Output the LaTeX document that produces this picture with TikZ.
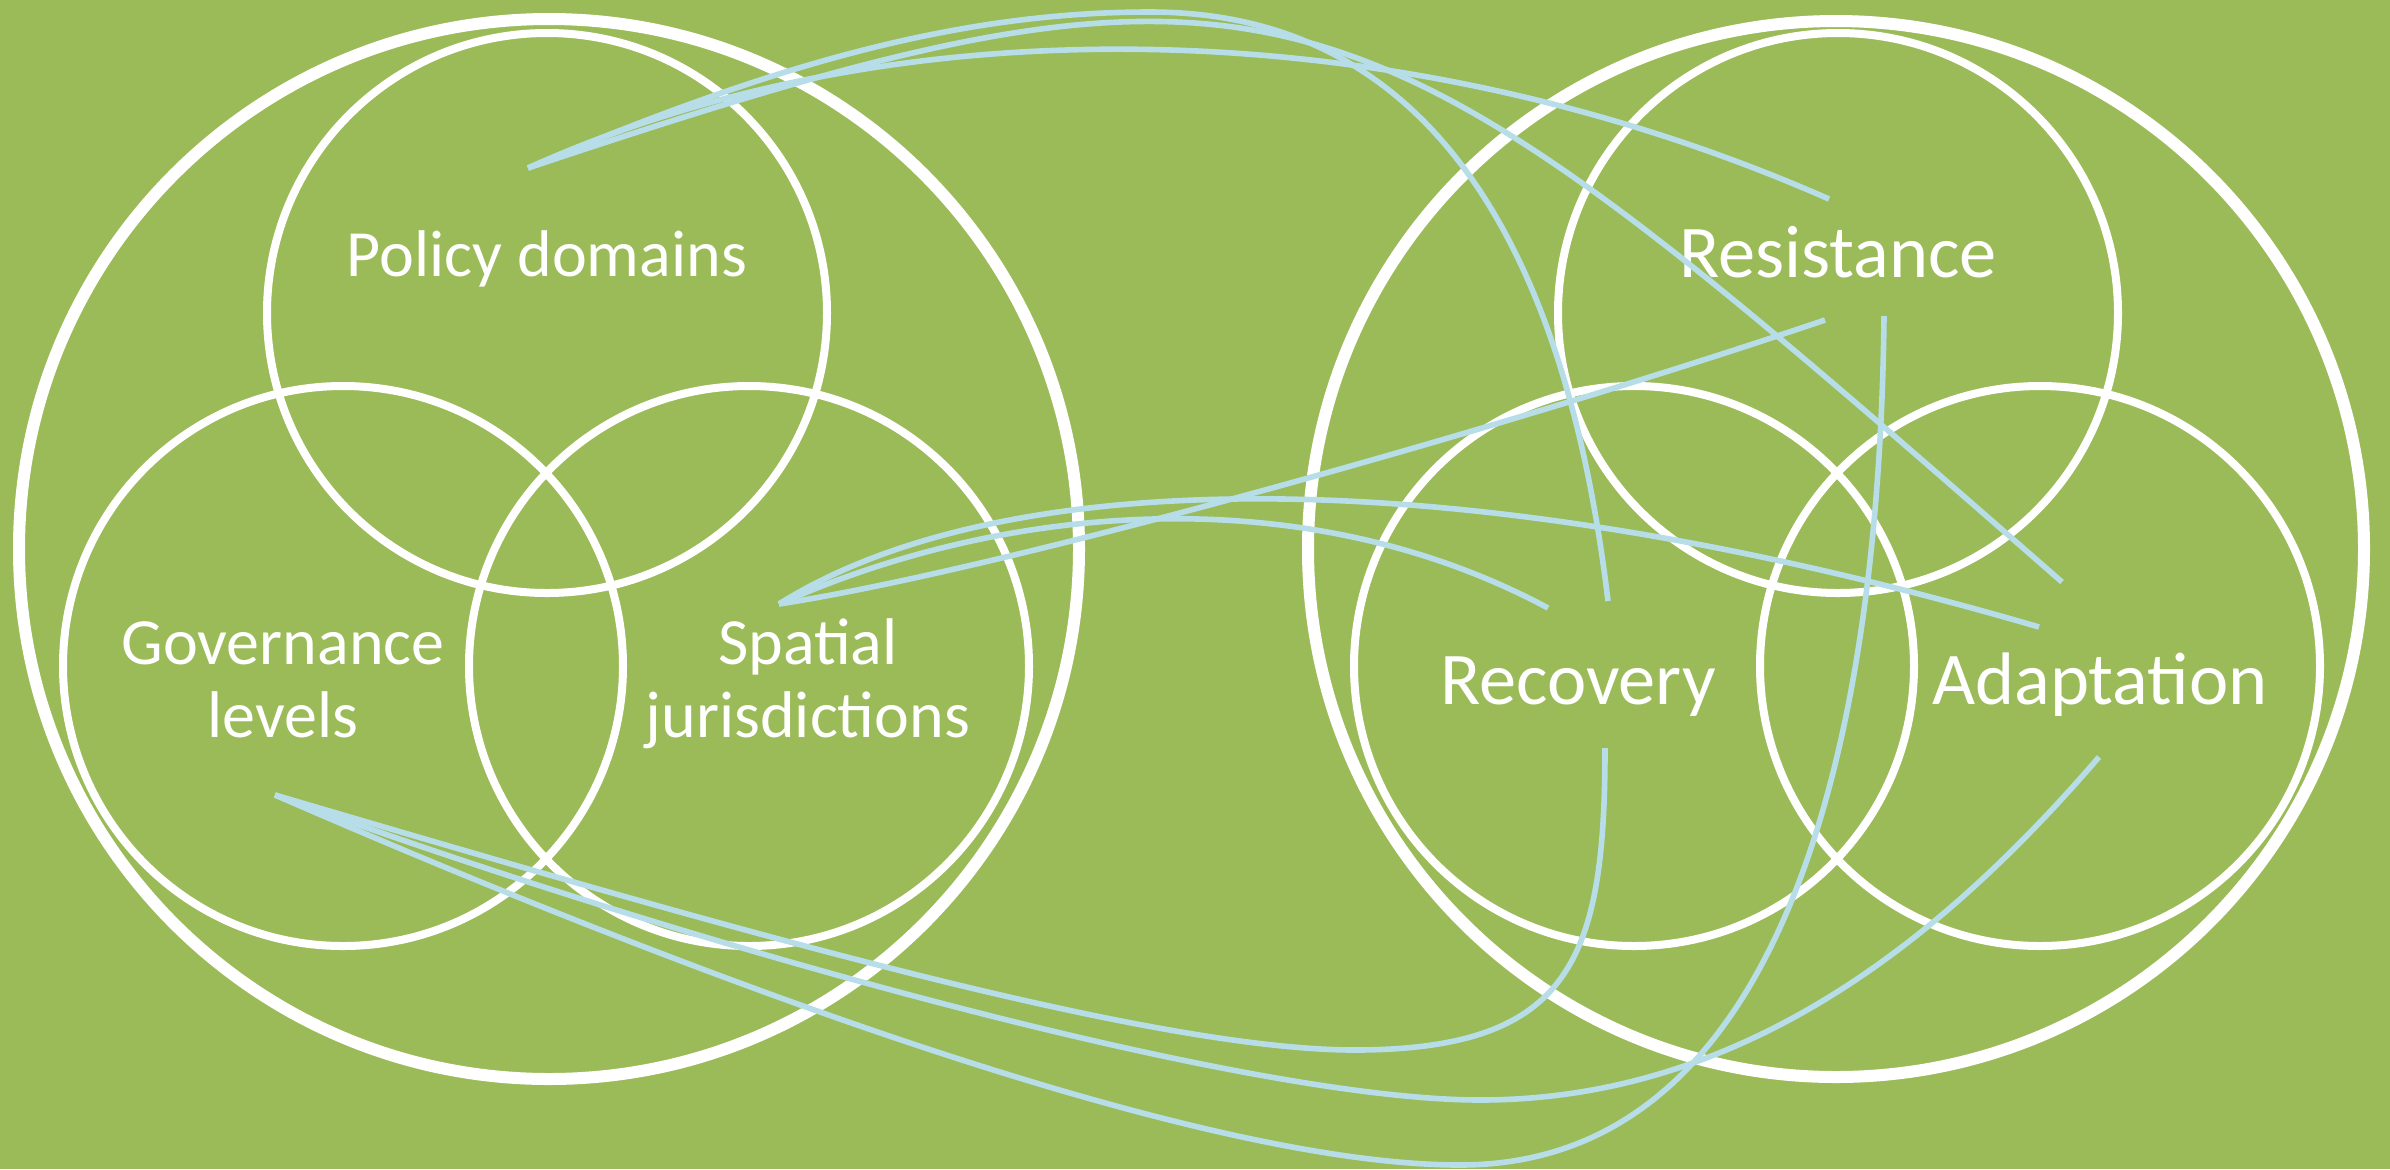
\documentclass[tikz,border=0pt]{standalone}
\usepackage{fontspec}
\setmainfont{Carlito}
\definecolor{bggreen}{HTML}{9BBB59}
\definecolor{linkblue}{HTML}{B7DEE8}
\begin{document}
\begin{tikzpicture}[x=0.25pt,y=-0.25pt,
  outerring/.style={circle,draw=white,line width=3pt,inner sep=0pt,outer sep=0pt},
  ring/.style={circle,draw=white,line width=2pt,inner sep=0pt,outer sep=0pt,minimum size=140pt},
  lbl/.style={text=white,font=\fontsize{16.5}{18.3}\selectfont,align=center,inner sep=0pt},
  biglbl/.style={lbl,font=\fontsize{18.6}{20.5}\selectfont},
  link/.style={draw=linkblue,line width=1.4pt}]
\useasboundingbox (0,0) rectangle (2390,1169);
\fill[bggreen] (0,0) rectangle (2390,1169);
% outer groups
\node[outerring,minimum size=265pt] (govgroup) at (549,549) {};
\node[outerring,minimum size=264pt] (resgroup) at (1836,549) {};
% left venn
\node[ring] (pdc) at (547,313) {};
\node[ring] (glc) at (343,666) {};
\node[ring] (sjc) at (749,666) {};
% right venn
\node[ring] (rsc) at (1838,313) {};
\node[ring] (rcc) at (1634,666) {};
\node[ring] (adc) at (2040,666) {};
% labels
\node[lbl,anchor=base] (pd) at (547,276) {Policy domains};
\node[lbl] (gl) at (283,680) {Governance\\levels};
\node[lbl] (sj) at (808,684) {Spatial\\jurisdictions};
\node[biglbl,anchor=base] (rs) at (1838,277) {Resistance};
\node[biglbl,anchor=base] (rc) at (1578,704) {Recovery};
\node[biglbl,anchor=base] (ad) at (2100,704) {Adaptation};
% connector ends
\coordinate (pdo) at (528,168);
\coordinate (sjo) at (779,604);
\coordinate (glo) at (275,795);
\coordinate (rsa) at (1829,199);
\coordinate (rsb) at (1825,320);
\coordinate (rsc2) at (1884,316);
\coordinate (rca) at (1608,601);
\coordinate (rcb) at (1548,608);
\coordinate (rcc2) at (1605,748);
\coordinate (ada) at (2062,582);
\coordinate (adb) at (2039,627);
\coordinate (adc2) at (2099,757);
% connectors from Policy domains
\draw[link] (pdo) .. controls (760,70) and (950,12) .. (1150,12) .. controls (1400,12) and (1560,200) .. (rca);
\draw[link] (pdo) .. controls (1300,-90) and (1350,-40) .. (ada);
\draw[link] (pdo) .. controls (900,0) and (1400,10) .. (rsa);
% connectors from Spatial jurisdictions
\draw[link] (sjo) .. controls (1000,570) and (1500,430) .. (rsb);
\draw[link] (sjo) .. controls (1000,505) and (1300,475) .. (rcb);
\draw[link] (sjo) .. controls (1000,465) and (1450,455) .. (adb);
% connectors from Governance levels
\draw[link] (glo) .. controls (700,920) and (1150,1052) .. (1360,1050) .. controls (1570,1048) and (1605,960) .. (rcc2);
\draw[link] (glo) .. controls (700,950) and (1250,1100) .. (1480,1100) .. controls (1750,1100) and (1950,930) .. (adc2);
\draw[link] (glo) .. controls (700,980) and (1200,1165) .. (1460,1165) .. controls (1800,1165) and (1880,700) .. (rsc2);
\end{tikzpicture}
\end{document}
